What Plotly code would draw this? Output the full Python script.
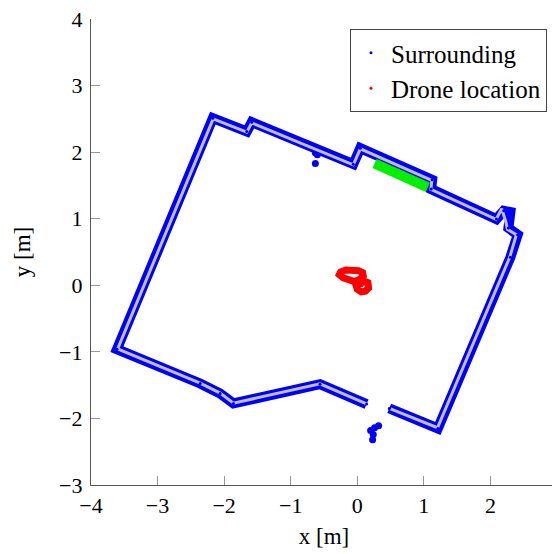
import plotly.graph_objects as go

# Scanned surrounding outline (blue point cloud), vertices in metres
scan_x = [0.48, 1.21, 2.30, 2.41, 2.27, 2.30, 2.20, 2.09, 1.11, 1.125, 0.045, -0.06,
          -1.585, -1.66, -2.17, -3.61, -2.36, -2.06, -1.86, -0.56, 0.14]
scan_y = [-1.85, -2.15, 0.42, 0.76, 0.86, 1.10, 1.12, 0.995, 1.445, 1.585, 2.06, 1.82,
          2.45, 2.31, 2.51, -0.96, -1.475, -1.625, -1.775, -1.485, -1.785]
# Isolated scan clusters
blob_x = [-0.63, -0.60, -0.63, 0.32, 0.26, 0.20, 0.24, 0.23, 2.17]
blob_y = [1.99, 1.96, 1.83, -2.11, -2.14, -2.18, -2.24, -2.32, 1.05]

# Map walls (gray polyline)
map_x = [0.50, 1.205, 2.29, 2.39, 2.255, 2.235, 2.17, 2.085, 1.105, 1.12, 0.045, -0.06,
         -1.585, -1.66, -2.165, -3.60, -2.36, -2.06, -1.86, -0.56, 0.14]
map_y = [-1.855, -2.14, 0.42, 0.76, 0.84, 0.94, 1.15, 0.99, 1.44, 1.575, 2.05, 1.81,
         2.44, 2.30, 2.50, -0.955, -1.47, -1.62, -1.77, -1.48, -1.78]

# Detected object (green)
obj_x = [0.26, 1.06]
obj_y = [1.83, 1.47]

# Drone trajectory (red)
drone_x = [-0.05, -0.13, -0.21, -0.27, -0.25, -0.17, -0.08, 0.02, 0.08, 0.09, 0.04, -0.03,
           0.03, 0.11, 0.16, 0.17, 0.12, 0.06, 0.0, -0.02, 0.04, 0.10]
drone_y = [0.06, 0.08, 0.11, 0.16, 0.20, 0.23, 0.235, 0.22, 0.19, 0.14, 0.09, 0.06,
           0.03, 0.06, 0.04, -0.04, -0.09, -0.10, -0.06, 0.0, 0.04, 0.02]

x_ticks = [-4, -3, -2, -1, 0, 1, 2, 3]
y_ticks = [-3, -2, -1, 0, 1, 2, 3, 4]

BLUE = "#0000ff"
RED = "#ff0000"
FONT = "Liberation Serif"

fig = go.Figure()
fig.add_trace(go.Scatter(x=scan_x, y=scan_y, mode="lines",
                         line=dict(color=BLUE, width=10), showlegend=False, hoverinfo="skip"))
fig.add_trace(go.Scatter(x=blob_x, y=blob_y, mode="markers",
                         marker=dict(color=BLUE, size=7), showlegend=False, hoverinfo="skip"))
fig.add_trace(go.Scatter(x=obj_x, y=obj_y, mode="lines",
                         line=dict(color="#00f000", width=10), showlegend=False, hoverinfo="skip"))
fig.add_trace(go.Scatter(x=map_x, y=map_y, mode="lines",
                         line=dict(color="#bfbfbf", width=3), showlegend=False, hoverinfo="skip"))
fig.add_trace(go.Scatter(x=drone_x, y=drone_y, mode="lines",
                         line=dict(color=RED, width=7), showlegend=False, hoverinfo="skip"))
fig.add_trace(go.Scatter(x=scan_x, y=scan_y, mode="markers", name="Surrounding",
                         marker=dict(color=BLUE, size=3)))
fig.add_trace(go.Scatter(x=drone_x, y=drone_y, mode="markers", name="Drone location",
                         marker=dict(color=RED, size=3)))

axis_common = dict(
    showline=True, linecolor="#555555", linewidth=1.2,
    ticks="inside", ticklen=9, tickcolor="#999999", tickwidth=1,
    showgrid=False, zeroline=False, mirror=False, automargin=False,
    ticklabeloverflow="allow",
    tickfont=dict(family=FONT, size=22, color="black"),
)

fig.update_layout(
    width=552, height=546,
    margin=dict(l=83, r=3, t=11, b=69),
    paper_bgcolor="white", plot_bgcolor="white",
    font=dict(family=FONT, size=22, color="black"),
    xaxis=dict(range=[-4, 3], tickvals=x_ticks,
               title=dict(text="x [m]", font=dict(family=FONT, size=23), standoff=11),
               **axis_common),
    yaxis=dict(range=[-3, 4], tickvals=y_ticks, ticklabelstandoff=3,
               title=dict(text="y [m]", font=dict(family=FONT, size=23), standoff=22),
               **axis_common),
    legend=dict(x=0.9785, y=0.9785, xanchor="right", yanchor="top",
                bgcolor="white", bordercolor="#444444", borderwidth=1,
                font=dict(family=FONT, size=25), tracegroupgap=0),
)

fig.write_html("out.html")
